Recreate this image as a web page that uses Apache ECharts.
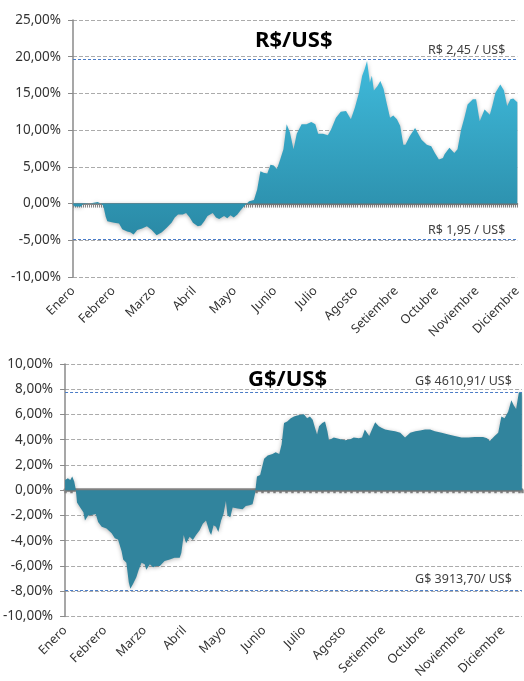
<!DOCTYPE html>
<html>
<head>
<meta charset="utf-8">
<script src="https://cdn.jsdelivr.net/npm/echarts@6/dist/echarts.min.js"></script>
<style>
  html, body { margin: 0; padding: 0; background: #fff; }
  #main { width: 524px; height: 681px; }
</style>
</head>
<body>
<div id="main"></div>
<script>
var myChart = echarts.init(document.getElementById('main'));

var meses = ['Enero', 'Febrero', 'Marzo', 'Abril', 'Mayo', 'Junio', 'Julio',
    'Agosto', 'Setiembre', 'Octubre', 'Noviembre', 'Diciembre'];

// R$/US$ : posicion en meses (0 = inicio de enero) y variacion %
var brlMes = [0, 0.04, 0.2, 0.24, 0.41, 0.61, 0.69, 0.75, 0.81, 0.85, 1.02, 1.14, 1.22, 1.34,
    1.42, 1.5, 1.59, 1.71, 1.83, 1.95, 2.07, 2.2, 2.32, 2.44, 2.52, 2.6, 2.72, 2.8,
    2.89, 2.97, 3.09, 3.17, 3.25, 3.33, 3.46, 3.54, 3.62, 3.74, 3.82, 3.9, 3.98,
    4.07, 4.15, 4.23, 4.36, 4.48, 4.56, 4.64, 4.72, 4.81, 4.89, 4.97, 5.05, 5.13,
    5.21, 5.29, 5.37, 5.46, 5.54, 5.66, 5.78, 5.9, 6.0, 6.07, 6.19, 6.31, 6.39,
    6.51, 6.63, 6.76, 6.88, 6.98, 7.08, 7.16, 7.22, 7.28, 7.35, 7.4, 7.45, 7.54,
    7.61, 7.69, 7.77, 7.85, 7.93, 8.02, 8.1, 8.18, 8.23, 8.34, 8.47, 8.63, 8.76,
    8.87, 8.96, 9.06, 9.16, 9.2, 9.32, 9.44, 9.52, 9.61, 9.69, 9.77, 9.9, 9.98,
    10.07, 10.19, 10.32, 10.38, 10.46, 10.58, 10.67, 10.75, 10.83, 10.9, 11.0];
var brlVar = [-0.1, -0.4, -0.4, -0.1, 0, 0.2, 0, -0.3, -1.8, -2.4, -2.6, -2.7, -3.5, -3.8,
    -3.9, -4.2, -3.6, -3.4, -3.1, -3.6, -4.3, -3.9, -3.3, -2.6, -1.9, -1.5, -1.5, -1.3,
    -1.9, -2.6, -3.1, -3.0, -2.4, -1.7, -1.3, -1.9, -2.1, -1.7, -2.0, -1.6, -1.9,
    -1.5, -0.9, -0.4, 0.3, 0.5, 1.9, 4.4, 4.2, 4.1, 5.3, 5.2, 4.7, 6.0,
    7.4, 10.8, 9.7, 7.4, 9.5, 10.8, 10.8, 11.1, 10.8, 9.5, 9.5, 9.3, 10.1,
    11.7, 12.5, 12.6, 11.5, 13.1, 15.1, 17.4, 18.3, 19.4, 16.5, 17.4, 15.4, 16.0,
    16.7, 15.6, 13.6, 11.7, 12.0, 11.5, 10.6, 8.0, 8.0, 9.2, 10.3, 8.7, 8.0,
    7.8, 6.9, 6.0, 6.2, 6.7, 7.6, 6.9, 7.4, 10.1, 11.7, 13.5, 14.2, 14.2,
    11.2, 12.8, 12.1, 13.3, 15.1, 16.2, 15.4, 13.3, 14.2, 14.3, 13.8];

// G$/US$
var pygMes = [0, 0.07, 0.13, 0.18, 0.23, 0.27, 0.3, 0.38, 0.46, 0.5, 0.58, 0.67, 0.77, 0.83,
    0.92, 1.04, 1.17, 1.25, 1.33, 1.42, 1.46, 1.54, 1.6, 1.64, 1.71, 1.79, 1.85,
    1.92, 2.0, 2.04, 2.13, 2.21, 2.29, 2.38, 2.5, 2.63, 2.75, 2.88, 2.92, 2.98,
    3.04, 3.13, 3.21, 3.29, 3.38, 3.46, 3.54, 3.63, 3.67, 3.73, 3.79, 3.85, 3.92,
    3.98, 4.04, 4.08, 4.15, 4.21, 4.33, 4.46, 4.54, 4.63, 4.71, 4.77, 4.82, 4.9,
    5.0, 5.09, 5.21, 5.29, 5.38, 5.44, 5.5, 5.58, 5.67, 5.75, 5.83, 5.92, 6.0,
    6.08, 6.15, 6.22, 6.28, 6.33, 6.38, 6.46, 6.53, 6.59, 6.63, 6.67, 6.75, 6.92,
    7.04, 7.17, 7.25, 7.38, 7.46, 7.53, 7.58, 7.64, 7.69, 7.79, 7.88, 7.96, 8.04,
    8.17, 8.29, 8.42, 8.54, 8.67, 8.8, 8.92, 9.04, 9.17, 9.29, 9.46, 9.63, 9.79,
    9.96, 10.13, 10.29, 10.5, 10.6, 10.67, 10.79, 10.88, 10.96, 11.04, 11.13,
    11.21, 11.27, 11.33, 11.4, 11.475];
var pygVar = [0.82, 0.95, 0.82, 1.08, 0.7, 0.05, -0.98, -1.36, -1.75, -2.4, -2.0, -1.96, -1.88, -2.52,
    -2.9, -3.04, -3.4, -3.8, -3.9, -4.84, -5.48, -5.74, -7.28, -7.8, -7.4, -6.9, -6.3,
    -5.74, -5.87, -6.3, -5.87, -6.1, -6.0, -6.0, -5.6, -5.48, -5.35, -5.35, -4.97, -3.55,
    -4.2, -3.68, -3.94, -3.55, -3.17, -2.65, -2.4, -3.3, -3.55, -2.78, -2.9, -3.3, -2.4,
    -1.88, -0.85, -2.0, -2.14, -1.36, -1.44, -1.5, -1.24, -1.18, -1.1, -0.3, 1.08, 1.2,
    2.5, 2.75, 2.88, 3.0, 2.88, 3.65, 5.33, 5.45, 5.71, 5.84, 5.92, 5.97, 6.02,
    5.71, 5.84, 5.58, 4.94, 4.42, 5.06, 5.33, 5.45, 4.68, 3.96, 4.04, 4.17, 4.04,
    3.96, 4.04, 4.17, 4.12, 4.17, 4.81, 4.94, 4.3, 4.68, 5.38, 5.06, 4.94, 4.81,
    4.73, 4.68, 4.55, 4.17, 4.55, 4.68, 4.73, 4.81, 4.81, 4.68, 4.55, 4.42, 4.3,
    4.17, 4.17, 4.22, 4.22, 4.12, 3.91, 4.3, 4.55, 5.84, 5.71, 6.22, 7.13,
    6.74, 6.43, 7.77, 7.77, 7.64];

var brlTecho = 19.6, brlPiso = -4.9;
var pygTecho = 7.8, pygPiso = -7.9;

function pares(xs, ys) {
    var res = [];
    for (var i = 0; i < xs.length; i++) {
        res.push([xs[i], ys[i]]);
    }
    return res;
}

var fuente = 'Noto Sans';
var gris = '#8a8a8a';

function ejeMeses(grid, max) {
    return {
        type: 'value', gridIndex: grid, min: 0, max: max, interval: 1,
        position: 'bottom',
        axisLine: { show: false, onZero: false },
        axisTick: { show: false },
        splitLine: { show: false },
        axisLabel: {
            rotate: 45, margin: 12, fontFamily: fuente, fontSize: 12.5, color: '#333',
            showMaxLabel: true,
            formatter: function(v) {
                return Number.isInteger(v) ? (meses[v] || '') : '';
            }
        }
    };
}

function ejeCero(grid, max, paso, grueso, largo) {
    return {
        type: 'value', gridIndex: grid, min: 0, max: max, interval: paso,
        position: 'bottom',
        axisLine: { show: true, onZero: true, lineStyle: { color: gris, width: grueso } },
        axisTick: { show: true, length: largo, lineStyle: { color: gris, width: grueso > 2 ? 2.5 : 1 } },
        axisLabel: { show: false },
        splitLine: { show: false }
    };
}

function ejeY(grid, min, max, paso) {
    return {
        type: 'value', gridIndex: grid, min: min, max: max, interval: paso,
        axisLine: { show: true, onZero: false, lineStyle: { color: gris, width: 1.5 } },
        axisTick: { show: true, length: 5, lineStyle: { color: gris } },
        splitLine: { show: true, lineStyle: { color: '#ababab', type: [4, 2] } },
        axisLabel: {
            fontFamily: fuente, fontSize: 13.5, color: '#333', margin: 12,
            formatter: function(v) { return v.toFixed(2).replace('.', ',') + '%'; }
        }
    };
}

function limites(techo, piso, txtTecho, txtPiso, dist) {
    var lbl = function(t) {
        return {
            show: true, position: 'insideEndTop', formatter: t, distance: dist,
            fontFamily: fuente, fontSize: 12.5, color: '#404040'
        };
    };
    return {
        symbol: 'none', silent: true, animation: false,
        lineStyle: { color: '#4a7cc7', type: [3, 2], width: 1 },
        data: [
            { yAxis: techo, label: lbl(txtTecho) },
            { yAxis: piso, label: lbl(txtPiso) }
        ]
    };
}

option = {
    animation: false,
    title: [
        { text: 'R$/US$', left: 250, top: 25,
          textStyle: { fontFamily: fuente, fontSize: 22, fontWeight: 'bold', color: '#000' } },
        { text: 'G$/US$', left: 243, top: 364,
          textStyle: { fontFamily: fuente, fontSize: 22, fontWeight: 'bold', color: '#000' } }
    ],
    grid: [
        { left: 73, right: 0, top: 20, height: 257 },
        { left: 65, right: 0, top: 364, height: 259 }
    ],
    xAxis: [
        ejeMeses(0, 11),
        ejeCero(0, 11, 0.05, 2, 4),
        ejeMeses(1, 11.475),
        ejeCero(1, 11.475, 0.15, 3.5, 3)
    ],
    yAxis: [
        ejeY(0, -10, 25, 5),
        ejeY(1, -10, 10, 2)
    ],
    series: [{
        name: 'R$/US$',
        type: 'line',
        xAxisIndex: 0, yAxisIndex: 0,
        data: pares(brlMes, brlVar),
        showSymbol: false,
        lineStyle: { width: 0 },
        areaStyle: {
            opacity: 1,
            color: new echarts.graphic.LinearGradient(0, 0, 0, 1, [
                { offset: 0, color: '#3fbadb' },
                { offset: 1, color: '#2a8aa6' }
            ]),
            shadowBlur: 4, shadowColor: 'rgba(0,0,0,0.3)', shadowOffsetY: 1
        },
        z: 3,
        markLine: limites(brlTecho, brlPiso, 'R$ 2,45 / US$', 'R$ 1,95 / US$', [12, 3])
    }, {
        name: 'G$/US$',
        type: 'line',
        xAxisIndex: 2, yAxisIndex: 1,
        data: pares(pygMes, pygVar),
        showSymbol: false,
        lineStyle: { width: 0 },
        areaStyle: {
            opacity: 1,
            color: '#31849d',
            shadowBlur: 4, shadowColor: 'rgba(0,0,0,0.3)', shadowOffsetY: 1
        },
        z: 3,
        markLine: limites(pygTecho, pygPiso, 'G$ 4610,91/ US$', 'G$ 3913,70/ US$', [10, 4])
    }]
};

myChart.setOption(option);
</script>
</body>
</html>
